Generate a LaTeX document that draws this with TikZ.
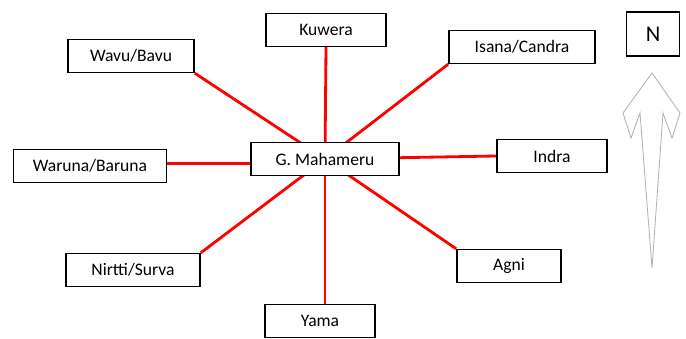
\documentclass[tikz,border=0pt]{standalone}
\usepackage{fontspec}
\setmainfont{Carlito}
\usepackage{tikz}
\usetikzlibrary{backgrounds}
\tikzset{place/.style = {draw, line width=1.1pt, fill=white, minimum height=0.82cm, inner sep=1pt, font=\fontsize{12.5}{14}\selectfont}}
\tikzset{ray/.style = {red, line width=2pt}}

\begin{document}
\begin{tikzpicture}[scale=1]
\useasboundingbox (0,0) rectangle (17.15,8.45);

\node[place, minimum width=3.7cm]  (meru)   at (8.125, 4.475) {G. Mahameru};
\node[place, minimum width=3.0cm]  (kuwera) at (8.15, 7.7)    {Kuwera};
\node[place, minimum width=3.15cm] (wavu)   at (3.275, 7.05)  {Wavu/Bavu};
\node[place, minimum width=3.83cm] (waruna) at (2.25, 4.3)    {Waruna/Baruna};
\node[place, minimum width=3.65cm] (isana)  at (13.05, 7.275) {Isana/Candra};
\node[place, minimum width=2.75cm] (indra)  at (13.8, 4.55)   {Indra};
\node[place, minimum width=2.6cm]  (agni)   at (12.725, 1.8)  {Agni};
\node[place, minimum width=3.35cm] (nirtti) at (3.325, 1.7)   {Nirtti/Surva};
\node[place, minimum width=2.75cm] (yama)   at (8.0, 0.425)   {Yama};
\node[place, minimum width=1.33cm, minimum height=1.1cm, font=\fontsize{16}{18}\selectfont] (north) at (16.325, 7.6) {N};

\begin{scope}[on background layer]
\draw[ray] (meru.center) -- (kuwera.south);
\draw[ray] (meru.center) -- (wavu.south east);
\draw[ray] (meru.center) -- (isana.south west);
\draw[ray] (meru.center) -- (indra.west);
\draw[ray] ([yshift=2pt]waruna.east) -- ([yshift=2pt]waruna.east -| meru.west);
\draw[ray] (meru.center) -- (nirtti.north east);
\draw[ray] (meru.center) -- (agni.north west);
\draw[ray] (meru.center) -- (meru.center |- yama.north);
\end{scope}

\draw[gray!60, line width=0.6pt, line join=miter]
  (16.3, 6.625) -- (15.575, 5.625) -- (15.775, 5.0) -- (16.0, 5.625) -- (16.3, 1.75)
  -- (16.575, 5.625) -- (16.8, 5.0) -- (17.0, 5.625) -- cycle;
\end{tikzpicture}
\end{document}
